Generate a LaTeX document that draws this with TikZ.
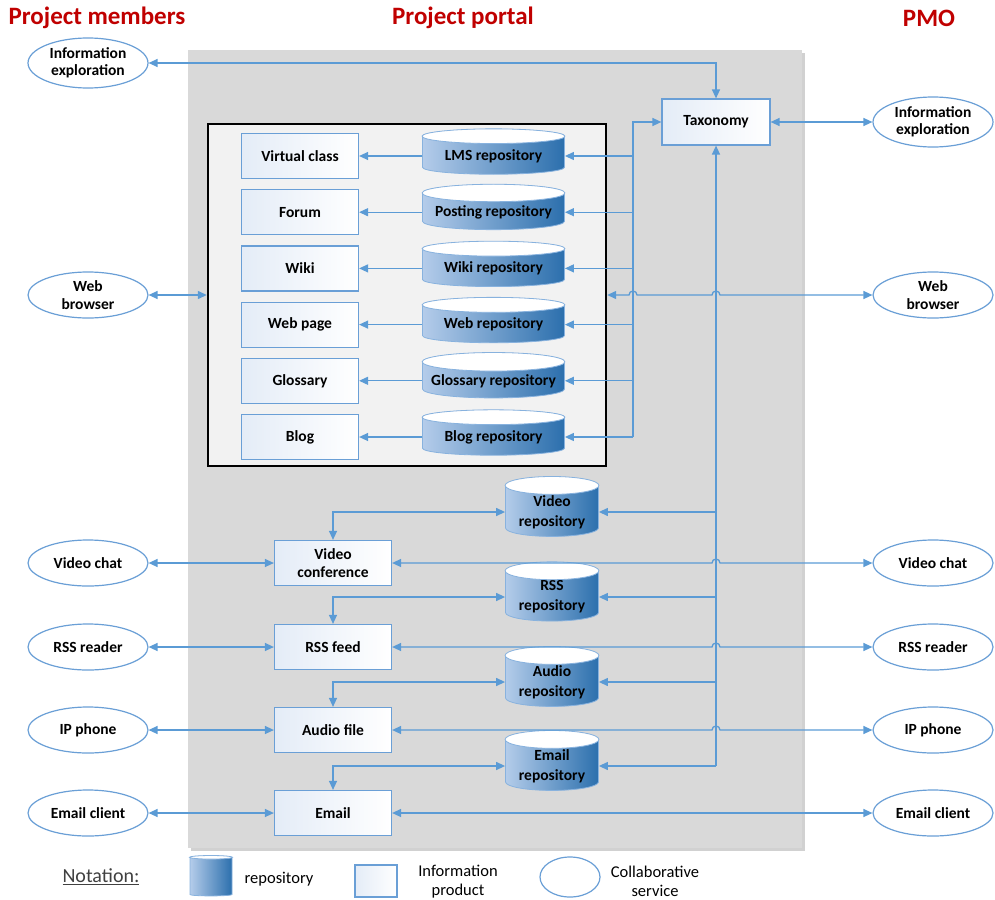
\documentclass[tikz,border=0pt]{standalone}
\usepackage{fontspec}
\setmainfont{Carlito}
\usetikzlibrary{arrows.meta,shapes.geometric,positioning,calc}

\definecolor{linkblue}{HTML}{5B9BD5}
\definecolor{edgeblue}{HTML}{6A9FD6}
\definecolor{tintblue}{HTML}{E4ECF7}
\definecolor{repodark}{HTML}{2E75B6}
\definecolor{repolight}{HTML}{B4CCEA}
\definecolor{portalgray}{HTML}{D9D9D9}
\definecolor{innergray}{HTML}{F2F2F2}
\definecolor{titlered}{HTML}{C00000}

\begin{document}
\begin{tikzpicture}[
  x=1pt, y=1pt,
  font=\fontsize{15.5}{17.5}\selectfont\bfseries,   % node text
  node distance = 10pt and 63pt,
  title/.style     = {text=titlered, font=\fontsize{25}{28}\selectfont\bfseries},
  product/.style   = {rectangle, draw=edgeblue, line width=1.2pt,
                      left color=tintblue, right color=white,
                      minimum width=117pt, minimum height=45pt,
                      align=center, inner sep=2pt},
  repo/.style      = {cylinder, shape border rotate=90, aspect=0.14,
                      draw=edgeblue!80, line width=0.8pt,
                      left color=repolight, middle color=repodark, right color=repodark!95!black,
                      minimum width=142pt, minimum height=45pt,
                      align=center, inner sep=1pt},
  smallrepo/.style = {repo, minimum width=93pt, minimum height=50pt, aspect=0.25,
                      font=\fontsize{15.5}{20}\selectfont\bfseries},
  repotop/.style   = {fill=white, draw=edgeblue!80, line width=0.8pt},
  service/.style   = {ellipse, draw=edgeblue, line width=1.2pt, fill=white,
                      minimum width=120pt, minimum height=46pt,
                      align=center, inner sep=0pt},
  keytext/.style   = {font=\fontsize{16.5}{19}\selectfont, align=center},
  link/.style      = {draw=linkblue, line width=1.3pt, >={Triangle[length=9pt,width=8pt]}}
]
\useasboundingbox (0,0) rectangle (995,-899);

% headings
\node[title] (tmembers) at (97,-18)  {Project members};
\node[title] (tportal)  at (463,-18) {Project portal};
\node[title] (tpmo)     at (929,-18) {PMO};

% portal background
\fill[black!18] (191,-53) rectangle (805,-851);
\fill[portalgray] (188,-50) rectangle (802,-848);

\node[draw=black, line width=2.4pt, fill=innergray,
      minimum width=398pt, minimum height=342pt] (panel) at (407,-295) {};

% information products inside the panel
\node[product] (vclass) at (300,-156) {Virtual class};
\node[product, below=of vclass]   (forum)    {Forum};
\node[product, below=of forum]    (wiki)     {Wiki};
\node[product, below=of wiki]     (webpage)  {Web page};
\node[product, below=of webpage]  (glossary) {Glossary};
\node[product, below=of glossary] (blog)     {Blog};

\node[repo, right=of vclass]   (lmsrepo)   {LMS repository};
\node[repo, right=of forum]    (postrepo)  {Posting repository};
\node[repo, right=of wiki]     (wikirepo)  {Wiki repository};
\node[repo, right=of webpage]  (webrepo)   {Web repository};
\node[repo, right=of glossary] (glossrepo) {Glossary repository};
\node[repo, right=of blog]     (blogrepo)  {Blog repository};

\node[product, minimum width=108pt, minimum height=46pt] (tax) at (716,-122) {Taxonomy};
\coordinate (bus) at (633,-122);

% lower products and repositories
\node[product] (vconf) at (333,-563) {Video\\conference};
\node[product] (feed)  at (333,-647) {RSS feed};
\node[product] (audio) at (333,-730) {Audio file};
\node[product] (email) at (333,-813) {Email};

\node[smallrepo] (vidrepo)  at (552,-512) {Video\\repository};
\node[smallrepo] (rssrepo)  at (552,-597) {RSS\\repository};
\node[smallrepo] (audrepo)  at (552,-682) {Audio\\repository};
\node[smallrepo] (mailrepo) at (552,-766) {Email\\repository};

% collaborative services
\node[service, minimum height=50pt] (memexplore) at (88,-63)   {Information\\exploration};
\node[service] (membrowser) at (88,-295) {Web\\browser};
\node[service] (memvideo)   at (88,-563) {Video chat};
\node[service] (memrss)     at (88,-647) {RSS reader};
\node[service] (memphone)   at (88,-730) {IP phone};
\node[service] (memmail)    at (88,-813) {Email client};

\node[service, minimum height=50pt] (pmoexplore) at (933,-122) {Information\\exploration};
\node[service] (pmobrowser) at (933,-295) {Web\\browser};
\node[service] (pmovideo)   at (933,-563) {Video chat};
\node[service] (pmorss)     at (933,-647) {RSS reader};
\node[service] (pmophone)   at (933,-730) {IP phone};
\node[service] (pmomail)    at (933,-813) {Email client};

% notation
\node[font=\fontsize{20}{22}\selectfont, text=black!75] (notation) at (101,-877) {\underline{Notation:}};
\node[repo, minimum width=42pt, minimum height=40pt, aspect=0.3] (keyrepo) at (211,-877) {\phantom{x}};
\node[keytext] (keyrepotext) at (279,-879) {repository};
\node[product, minimum width=42pt, minimum height=32pt] (keyprod) at (376,-881) {};
\node[keytext] (keyprodtext) at (458,-882) {Information\\product};
\node[service, minimum width=60pt, minimum height=40pt] (keyserv) at (570,-877) {};
\node[keytext] (keyservtext) at (655,-881) {Collaborative\\service};

% cylinder lids
\foreach \r in {lmsrepo,postrepo,wikirepo,webrepo,glossrepo,blogrepo,vidrepo,rssrepo,audrepo,mailrepo,keyrepo}
  \filldraw[repotop] let \p1=(\r.before top), \p2=(\r.after top), \p3=(\r.top) in
    ($(\p1)!0.5!(\p2)$) ellipse ({(\x2-\x1)/2} and {\y3-\y1});

% connectors
\draw[link,<->] (memexplore.east) -| (tax.north);
\draw[link,<->] (tax.east) -- (pmoexplore.west);
\draw[link,->]  (blogrepo.east -| bus) |- (tax.west);
\foreach \r/\p in {lmsrepo/vclass, postrepo/forum, wikirepo/wiki, webrepo/webpage, glossrepo/glossary, blogrepo/blog} {
  \draw[link,->] (\r.east -| bus) -- (\r.east);
  \draw[link,->] (\r.west) -- (\p.east);
}
\draw[link,->] (mailrepo.east -| tax.south) -- (tax.south);
\foreach \r/\p in {vidrepo/vconf, rssrepo/feed, audrepo/audio, mailrepo/email} {
  \draw[link,->]  (\r.east -| tax.south) -- (\r.east);
  \draw[link,<->] (\r.west) -| (\p.north);
}

\draw[link,<->] (membrowser.east) -- (panel.west);
\draw[link,<->] (pmobrowser.west) -- ($(tax.south |- pmobrowser.west)+(4,0)$)
  arc[start angle=0, end angle=180, radius=4] -- ($(bus |- pmobrowser.west)+(4,0)$)
  arc[start angle=0, end angle=180, radius=4] -- (panel.east);
\foreach \s/\p in {video/vconf, rss/feed, phone/audio} {
  \draw[link,<->] (mem\s.east) -- (\p.west);
  \draw[link,<->] (pmo\s.west) -- ($(tax.south |- pmo\s.west)+(4,0)$)
    arc[start angle=0, end angle=180, radius=4] -- (\p.east);
}
\draw[link,<->] (memmail.east) -- (email.west);
\draw[link,<->] (pmomail.west) -- (email.east);

\end{tikzpicture}
\end{document}
